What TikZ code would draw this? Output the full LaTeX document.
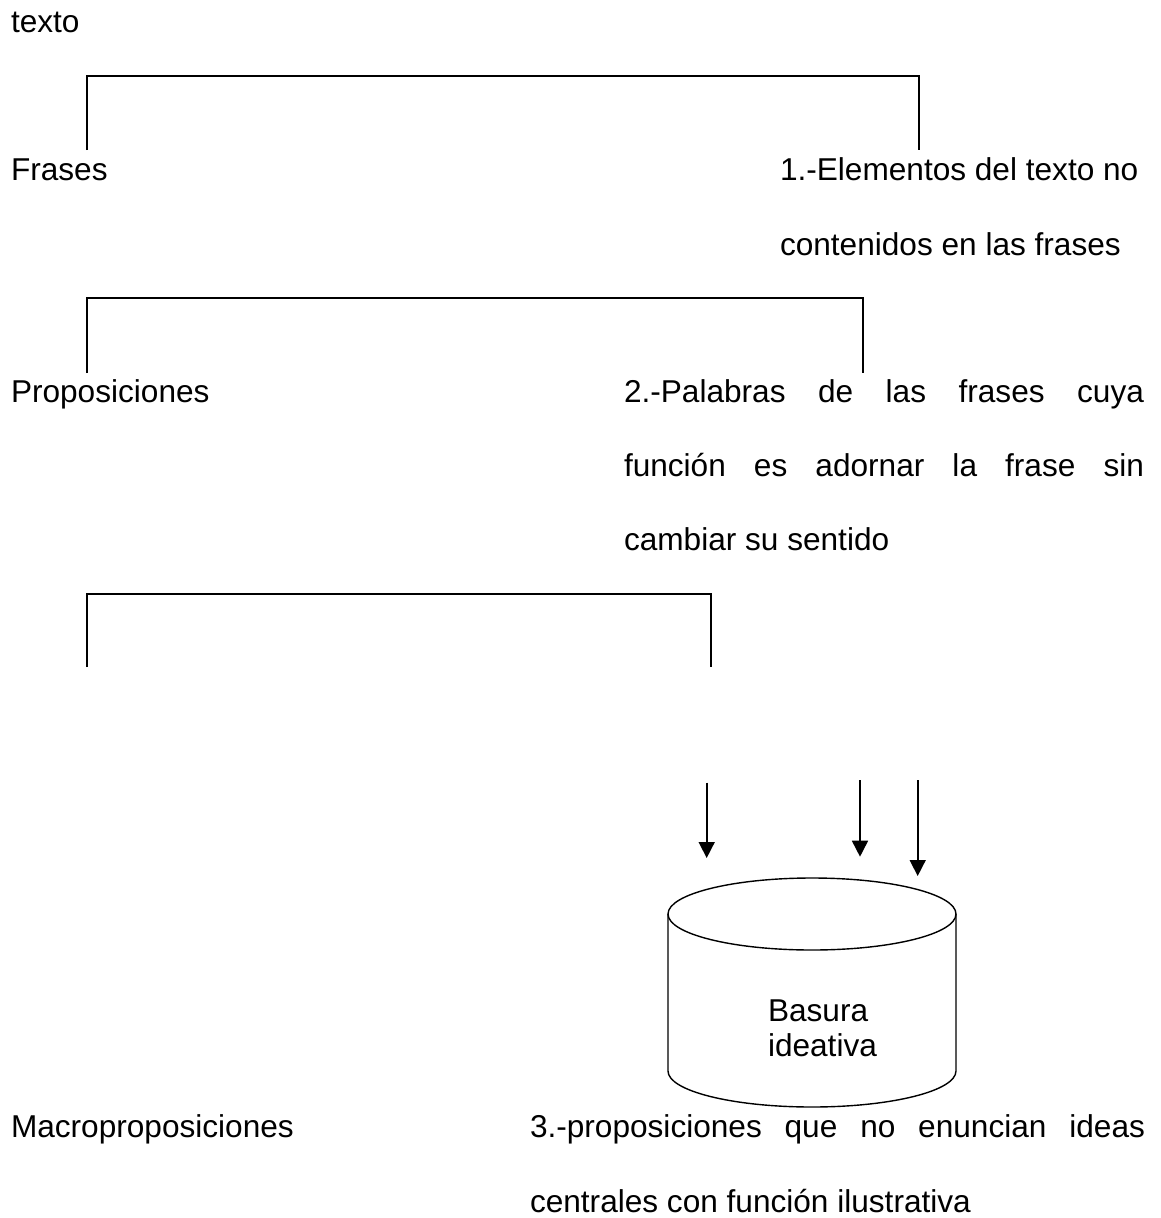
\documentclass[tikz,border=0pt]{standalone}
\usepackage{fontspec}
\setmainfont{Liberation Sans}
\usetikzlibrary{arrows.meta}
\begin{document}
\begin{tikzpicture}[x=1pt,y=-1pt,
  lbl/.style={anchor=base west,inner sep=0pt,outer sep=0pt,font=\fontsize{31.6}{35}\selectfont},
  brk/.style={line width=1.8pt},
  arr/.style={line width=1.6pt,-{Triangle[width=16pt,length=16pt]}},
  cylline/.style={line width=1.4pt}]
\useasboundingbox (0,0) rectangle (1160,1218);

% left column
\node[lbl] (texto) at (11,32) {texto};
\node[lbl] (frases) at (11,180) {Frases};
\node[lbl] (prop) at (11,402) {Proposiciones};
\node[lbl] (macro) at (11,1137) {Macroproposiciones};

% right column
\node[lbl] (e1a) at (780,180) {1.-Elementos del texto no};
\node[lbl] (e1b) at (780,255) {contenidos en las frases};
\node[lbl] (e2a) at (624,402) {\makebox[520pt][s]{2.-Palabras de las frases cuya}};
\node[lbl] (e2b) at (624,476.5) {\makebox[520pt][s]{función es adornar la frase sin}};
\node[lbl] (e2c) at (624,550) {cambiar su sentido};
\node[lbl] (e3a) at (530,1137) {\makebox[615pt][s]{3.-proposiciones que no enuncian ideas}};
\node[lbl] (e3b) at (530,1212) {centrales con función ilustrativa};

% brackets
\coordinate (b1l) at (87,150);  \coordinate (b1r) at (919,150); \coordinate (b1t) at (0,76);
\coordinate (b2l) at (87,373);  \coordinate (b2r) at (863,373); \coordinate (b2t) at (0,298);
\coordinate (b3l) at (87,667);  \coordinate (b3r) at (711,667); \coordinate (b3t) at (0,594);
\draw[brk] (b1l) -- (b1l |- b1t) -| (b1r);
\draw[brk] (b2l) -- (b2l |- b2t) -| (b2r);
\draw[brk] (b3l) -- (b3l |- b3t) -| (b3r);

% arrows
\coordinate (a1s) at (706.7,782.7); \coordinate (a1e) at (706.7,858);
\coordinate (a2s) at (860,780);     \coordinate (a2e) at (860,856.7);
\coordinate (a3s) at (917.7,780);   \coordinate (a3e) at (917.7,876);
\draw[arr] (a1s) -- (a1e);
\draw[arr] (a2s) -- (a2e);
\draw[arr] (a3s) -- (a3e);

% cylinder
\coordinate (cyltop) at (812,914);
\coordinate (cylbot) at (812,1071);
\draw[cylline] (cyltop) ellipse [x radius=144pt, y radius=36pt];
\draw[cylline] ([xshift=-144pt]cyltop) -- ([xshift=-144pt]cylbot)
  arc[start angle=180,end angle=360,x radius=144pt,y radius=36pt]
  -- ([xshift=144pt]cyltop);
\node[lbl] (bas1) at (768,1021.5) {Basura};
\node[lbl] (bas2) at (768,1056.5) {ideativa};
\end{tikzpicture}
\end{document}
